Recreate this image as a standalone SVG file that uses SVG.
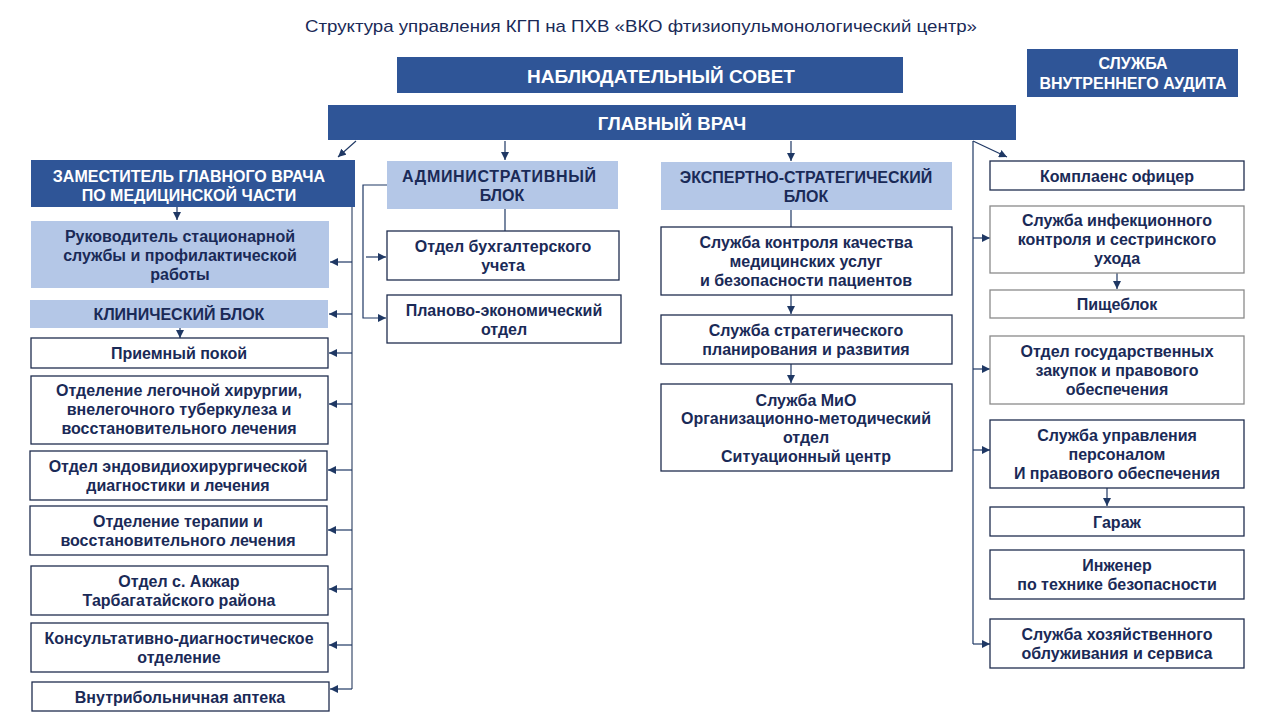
<svg xmlns="http://www.w3.org/2000/svg" width="1280" height="720" viewBox="0 0 1280 720">
<style>
text{font-family:"Liberation Sans",Arial,sans-serif;font-weight:bold;font-size:16px;fill:#1a2a57;text-anchor:middle}
.t{font-weight:normal;font-size:17px;fill:#1a2a57}
.w{fill:#ffffff}
.big{font-size:18.5px}
.dark{fill:#2f5597}
.light{fill:#b4c7e7}
.box{fill:#ffffff;stroke:#1f2d4f;stroke-width:1.3}
.gbox{fill:#ffffff;stroke:#8a8a8a;stroke-width:1.3}
.c{stroke:#1f3864;stroke-width:1.2;fill:none}
.cg{stroke:#4a5a78;stroke-width:1.3;fill:none}
</style>
<defs>
<marker id="ah" viewBox="0 0 8 8" refX="8" refY="4" markerWidth="8" markerHeight="8" markerUnits="userSpaceOnUse" orient="auto">
<path d="M0,0 L8,4 L0,8 z" fill="#1f3864"/>
</marker>
</defs>
<rect width="1280" height="720" fill="#ffffff"/>
<text class="t" x="641" y="32" textLength="672" lengthAdjust="spacingAndGlyphs">Структура управления  КГП на ПХВ «ВКО фтизиопульмонологический центр»</text>

<g id="connectors">
<line class="c" x1="356" y1="141" x2="338" y2="157" marker-end="url(#ah)"/>
<line class="c" x1="505" y1="141" x2="505" y2="160" marker-end="url(#ah)"/>
<line class="c" x1="791" y1="141" x2="791" y2="161" marker-end="url(#ah)"/>
<line class="c" x1="973" y1="141" x2="1007" y2="157" marker-end="url(#ah)"/>
<line class="c" x1="973" y1="141" x2="973" y2="644"/>
<line class="c" x1="973" y1="238" x2="990" y2="238" marker-end="url(#ah)"/>
<line class="c" x1="973" y1="369" x2="990" y2="369" marker-end="url(#ah)"/>
<line class="c" x1="973" y1="450" x2="990" y2="450" marker-end="url(#ah)"/>
<line class="c" x1="973" y1="644" x2="990" y2="644" marker-end="url(#ah)"/>
<line class="c" x1="1117" y1="273" x2="1117" y2="289" marker-end="url(#ah)"/>
<line class="c" x1="1107" y1="488" x2="1107" y2="506" marker-end="url(#ah)"/>
<line class="c" x1="177" y1="207" x2="177" y2="220" marker-end="url(#ah)"/>
<line class="c" x1="180" y1="328" x2="180" y2="338" marker-end="url(#ah)"/>
<line class="cg" x1="352" y1="207" x2="352" y2="689"/>
<line class="c" x1="352" y1="262" x2="330" y2="262" marker-end="url(#ah)"/>
<line class="c" x1="352" y1="314" x2="329" y2="314" marker-end="url(#ah)"/>
<line class="c" x1="352" y1="353" x2="329" y2="353" marker-end="url(#ah)"/>
<line class="c" x1="352" y1="404" x2="329" y2="404" marker-end="url(#ah)"/>
<line class="c" x1="352" y1="470" x2="328" y2="470" marker-end="url(#ah)"/>
<line class="c" x1="352" y1="530" x2="328" y2="530" marker-end="url(#ah)"/>
<line class="c" x1="352" y1="589" x2="329" y2="589" marker-end="url(#ah)"/>
<line class="c" x1="352" y1="645" x2="329" y2="645" marker-end="url(#ah)"/>
<line class="c" x1="352" y1="689" x2="330" y2="689" marker-end="url(#ah)"/>
<polyline class="c" points="387,185 363,185 363,318 386,318" marker-end="url(#ah)"/>
<line class="c" x1="366" y1="257" x2="386" y2="257" marker-end="url(#ah)"/>
<line class="c" x1="505" y1="209" x2="505" y2="231"/>
<line class="c" x1="791" y1="210" x2="791" y2="227"/>
<line class="c" x1="791" y1="295" x2="791" y2="314" marker-end="url(#ah)"/>
<line class="c" x1="791" y1="364" x2="791" y2="383" marker-end="url(#ah)"/>
</g>

<g id="nabl"><rect class="dark" x="397" y="57" width="506" height="36"/><text class="w" style="font-size:19px" x="661" y="83">НАБЛЮДАТЕЛЬНЫЙ СОВЕТ</text></g>
<g id="audit"><rect class="dark" x="1027" y="49" width="211" height="48"/><text class="w" x="1133" y="69">СЛУЖБА</text><text class="w" x="1133" y="89">ВНУТРЕННЕГО АУДИТА</text></g>
<g id="glavvrach"><rect class="dark" x="328" y="105" width="688" height="35"/><text class="w big" x="672" y="130">ГЛАВНЫЙ ВРАЧ</text></g>

<g id="zam"><rect class="dark" x="31" y="160" width="324" height="47"/><text class="w" x="189" y="182">ЗАМЕСТИТЕЛЬ ГЛАВНОГО ВРАЧА</text><text class="w" x="189" y="201">ПО МЕДИЦИНСКОЙ ЧАСТИ</text></g>
<g id="admin"><rect class="light" x="387" y="161" width="231" height="48"/><text x="499" y="182" textLength="194" lengthAdjust="spacing">АДМИНИСТРАТИВНЫЙ</text><text x="502" y="201">БЛОК</text></g>
<g id="expert"><rect class="light" x="661" y="162" width="291" height="48"/><text x="806" y="183">ЭКСПЕРТНО-СТРАТЕГИЧЕСКИЙ</text><text x="806" y="202">БЛОК</text></g>

<g id="rukovod"><rect class="light" x="31" y="221" width="298" height="67"/><text x="180" y="242">Руководитель стационарной</text><text x="180" y="261">службы и профилактической</text><text x="180" y="280">работы</text></g>
<g id="klin"><rect class="light" x="30" y="300" width="298" height="28"/><text x="179" y="320">КЛИНИЧЕСКИЙ БЛОК</text></g>
<g id="priem"><rect class="box" x="31" y="338" width="297" height="30"/><text x="179" y="359">Приемный покой</text></g>
<g id="legoch"><rect class="box" x="31" y="376" width="297" height="68"/><text x="179" y="396">Отделение легочной хирургии,</text><text x="179" y="415">внелегочного туберкулеза и</text><text x="179" y="434">восстановительного лечения</text></g>
<g id="endo"><rect class="box" x="30" y="451" width="297" height="49"/><text x="178" y="472">Отдел эндовидиохирургической</text><text x="178" y="491">диагностики и лечения</text></g>
<g id="terap"><rect class="box" x="30" y="506" width="297" height="49"/><text x="178" y="527">Отделение терапии и</text><text x="178" y="546">восстановительного лечения</text></g>
<g id="akzhar"><rect class="box" x="31" y="566" width="297" height="49"/><text x="179" y="587">Отдел с. Акжар</text><text x="179" y="606">Тарбагатайского района</text></g>
<g id="kdo"><rect class="box" x="31" y="623" width="297" height="49"/><text x="179" y="644">Консультативно-диагностическое</text><text x="179" y="663">отделение</text></g>
<g id="apteka"><rect class="box" x="32" y="682" width="297" height="29"/><text x="180" y="703">Внутрибольничная аптека</text></g>

<g id="buh"><rect class="box" x="387" y="231" width="232" height="49"/><text x="503" y="252">Отдел бухгалтерского</text><text x="503" y="271">учета</text></g>
<g id="plan"><rect class="box" x="387" y="295" width="234" height="48"/><text x="504" y="316">Планово-экономический</text><text x="504" y="335">отдел</text></g>

<g id="kachestvo"><rect class="box" x="661" y="227" width="291" height="68"/><text x="806" y="248">Служба контроля качества</text><text x="806" y="267">медицинских услуг</text><text x="806" y="286">и безопасности пациентов</text></g>
<g id="strateg"><rect class="box" x="661" y="315" width="291" height="49"/><text x="806" y="336">Служба стратегического</text><text x="806" y="355">планирования и развития</text></g>
<g id="mio"><rect class="box" x="661" y="384" width="291" height="87"/><text x="806" y="406">Служба МиО</text><text x="806" y="424">Организационно-методический</text><text x="806" y="443">отдел</text><text x="806" y="462">Ситуационный центр</text></g>

<g id="compl"><rect class="box" x="990" y="161" width="254" height="29"/><text x="1117" y="182">Комплаенс офицер</text></g>
<g id="infek"><rect class="gbox" x="990" y="206" width="254" height="67"/><text x="1117" y="226">Служба инфекционного</text><text x="1117" y="245">контроля и  сестринского</text><text x="1117" y="264">ухода</text></g>
<g id="pishe"><rect class="gbox" x="990" y="290" width="254" height="28"/><text x="1117" y="310">Пищеблок</text></g>
<g id="zakup"><rect class="gbox" x="990" y="336" width="254" height="68"/><text x="1117" y="357">Отдел государственных</text><text x="1117" y="376">закупок  и правового</text><text x="1117" y="395">обеспечения</text></g>
<g id="kadry"><rect class="box" x="990" y="420" width="254" height="68"/><text x="1117" y="441">Служба управления</text><text x="1117" y="460">персоналом</text><text x="1117" y="479">И правового обеспечения</text></g>
<g id="garazh"><rect class="box" x="990" y="507" width="254" height="29"/><text x="1117" y="528">Гараж</text></g>
<g id="inzh"><rect class="box" x="990" y="550" width="254" height="49"/><text x="1117" y="571">Инженер</text><text x="1117" y="590">по технике безопасности</text></g>
<g id="hoz"><rect class="box" x="990" y="619" width="254" height="49"/><text x="1117" y="640">Служба хозяйственного</text><text x="1117" y="659">облуживания и сервиса</text></g>
</svg>
